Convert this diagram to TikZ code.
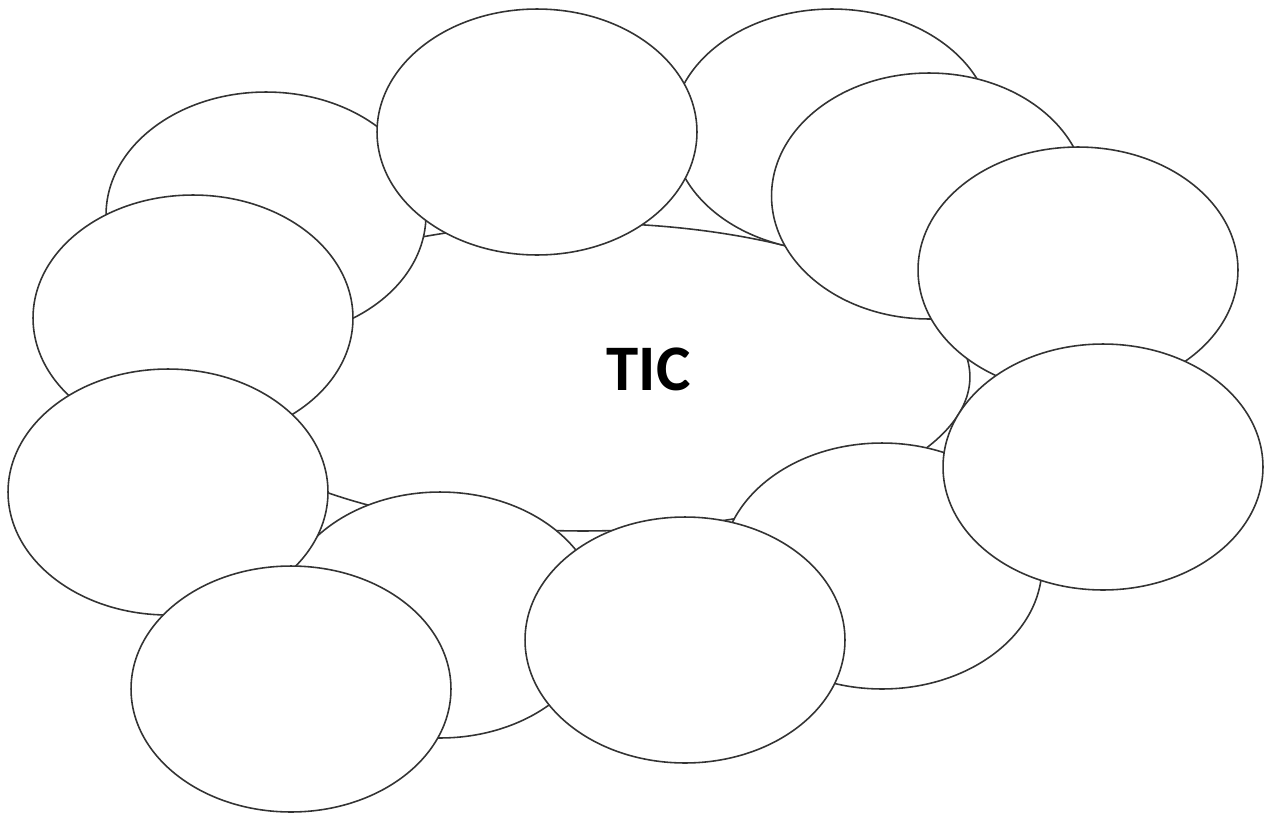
\documentclass[tikz,border=0pt]{standalone}
\usepackage{fontspec}
\newfontfamily\calib{Carlito}
\usetikzlibrary{shapes.geometric}
\tikzset{
  bubble/.style={ellipse, draw=black!80, line width=0.9pt, fill=white, inner sep=0pt,
    minimum width=6.4cm, minimum height=4.92cm},
  hub/.style={ellipse, draw=black!80, line width=0.9pt, fill=white, inner sep=0pt,
    minimum width=15.48cm, minimum height=6.16cm}
}
\begin{document}
\begin{tikzpicture}[x=0.02cm,y=-0.02cm]
\useasboundingbox (0,0) rectangle (1268,815);
\node[hub] (c) at (583,377) {};
\node[bubble] (b1) at (266,215) {};
\node[bubble, minimum height=4.84cm] (b11) at (832,130) {};
\node[bubble] (b5) at (440,615) {};
\node[bubble] (b7) at (882,566) {};
\node[bubble] (b2) at (193,318) {};
\node[bubble] (b3) at (168,492) {};
\node[bubble] (b12) at (537,132) {};
\node[bubble, minimum width=6.3cm] (b10) at (929,196) {};
\node[bubble] (b9) at (1078,270) {};
\node[bubble] (b8) at (1103,467) {};
\node[bubble] (b6) at (685,640) {};
\node[bubble] (b4) at (291,689) {};
\node[font=\calib\bfseries\fontsize{37}{44}\selectfont, inner sep=0pt] (t) at (648.5,369) {TIC};
\end{tikzpicture}
\end{document}
